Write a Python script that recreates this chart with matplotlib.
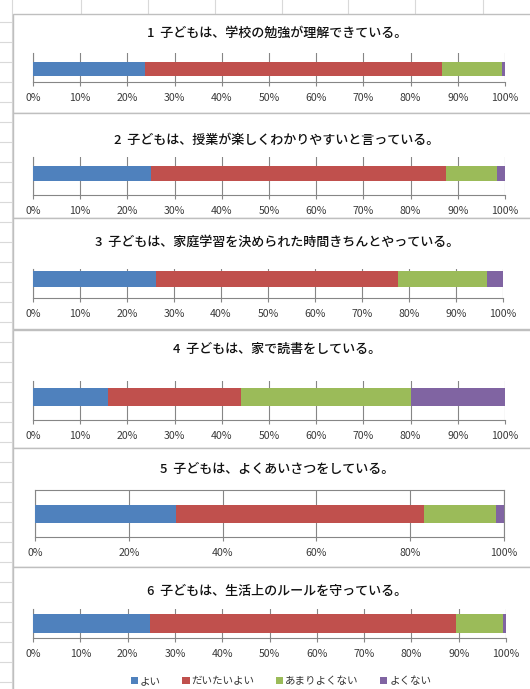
import matplotlib
matplotlib.use("Agg")
import matplotlib.pyplot as plt
from matplotlib.patches import Rectangle
from matplotlib.lines import Line2D
from matplotlib.ticker import PercentFormatter

plt.rcParams['font.family'] = ['Noto Sans CJK JP', 'DejaVu Sans']

# ---------------- data ----------------
categories = ['よい', 'だいたいよい', 'あまりよくない', 'よくない']
questions = [
    '1  子どもは、学校の勉強が理解できている。',
    '2  子どもは、授業が楽しくわかりやすいと言っている。',
    '3  子どもは、家庭学習を決められた時間きちんとやっている。',
    '4  子どもは、家で読書をしている。',
    '5  子どもは、よくあいさつをしている。',
    '6  子どもは、生活上のルールを守っている。',
]
yoi = [23.8, 25.1, 26.1, 15.9, 30.1, 24.8]
daitai_yoi = [62.9, 62.3, 51.5, 28.1, 52.8, 64.6]
amari_yokunai = [12.6, 10.8, 19.0, 36.0, 15.3, 9.9]
yokunai = [0.7, 1.8, 3.4, 20.0, 1.8, 0.7]
ticks_10 = [0, 10, 20, 30, 40, 50, 60, 70, 80, 90, 100]
ticks_20 = [0, 20, 40, 60, 80, 100]

colors = ['#4F81BD', '#C0504D', '#9BBB59', '#8064A2']
series = [yoi, daitai_yoi, amari_yokunai, yokunai]

W, H = 530, 689
fig = plt.figure(figsize=(W / 100, H / 100), dpi=100)
fig.patch.set_facecolor('white')


def fx(x):
    return x / W


def fy(y):
    return 1 - y / H


# spreadsheet background grid
for y in range(22, H, 20):
    fig.add_artist(Line2D([0, 1], [fy(y), fy(y)], color='#D9D9D9', lw=0.8,
                          transform=fig.transFigure, zorder=-3))
for x in [12, 81, 148, 215, 282, 348, 415, 483]:
    fig.add_artist(Line2D([fx(x), fx(x)], [0, 1], color='#D9D9D9', lw=0.8,
                          transform=fig.transFigure, zorder=-3))

# panel layout (pixels): panel top, panel bottom, plot top, plot bottom,
# bar top, bar bottom, plot left, plot right, title y
layout = [
    (14, 113, 53, 82, 62, 76, 33, 505, 33),
    (113, 218, 157, 195, 166, 181, 33, 505, 140),
    (218, 329, 269, 298, 271, 287, 33, 503, 242),
    (330, 448, 381, 420, 388, 406, 33, 505, 349),
    (448, 567, 490, 537, 505, 523, 35, 504, 469),
    (567, 700, 609, 638, 614, 633, 33, 506, 591),
]

grid_col = '#868686'
for i, (pt, pb, T, B, bt, bb, x0, x1, ty) in enumerate(layout):
    fig.add_artist(Rectangle((fx(13), fy(pb)), fx(560 - 13), (pb - pt) / H,
                             facecolor='white', edgecolor='#BFBFBF', lw=1.0,
                             transform=fig.transFigure, zorder=-1))
    ax = fig.add_axes([fx(x0), fy(B), fx(x1 - x0), (B - T) / H])
    ax.set_facecolor('none')
    c = (B - (bt + bb) / 2) / (B - T)
    h = (bb - bt) / (B - T)
    left = 0
    for s, col, name in zip(series, colors, categories):
        ax.barh([c], [s[i]], left=[left], height=h, color=col, label=name,
                zorder=3)
        left += s[i]
    ax.set_xlim(0, 100)
    ax.set_ylim(0, 1)
    ax.set_yticks([])
    ticks = ticks_20 if i == 4 else ticks_10
    ax.set_xticks(ticks)
    ax.xaxis.set_major_formatter(PercentFormatter(100, decimals=0))
    ax.xaxis.grid(True, color=grid_col, lw=0.8, zorder=0)
    ax.tick_params(axis='x', length=3, width=0.8, color=grid_col,
                   labelsize=7.6, labelcolor='#3a3a3a', pad=5)
    for side in ['top', 'right']:
        ax.spines[side].set_visible(i == 4)
        ax.spines[side].set_color(grid_col)
        ax.spines[side].set_linewidth(0.8)
    for side in ['left', 'bottom']:
        ax.spines[side].set_color(grid_col)
        ax.spines[side].set_linewidth(0.8)
    fig.text(fx(277), fy(ty), questions[i], ha='center', va='center',
             fontsize=9.4, fontweight='medium', color='#111111')
    last_ax = ax

handles, labels = last_ax.get_legend_handles_labels()
fig.legend(handles, labels, loc='center', bbox_to_anchor=(fx(281), fy(681)),
           ncol=4, frameon=False, fontsize=7.6, handlelength=0.7,
           handleheight=0.7, handletextpad=0.2, columnspacing=2.0,
           labelcolor='#333333')

fig.savefig('out.png', dpi=100, facecolor='white')
